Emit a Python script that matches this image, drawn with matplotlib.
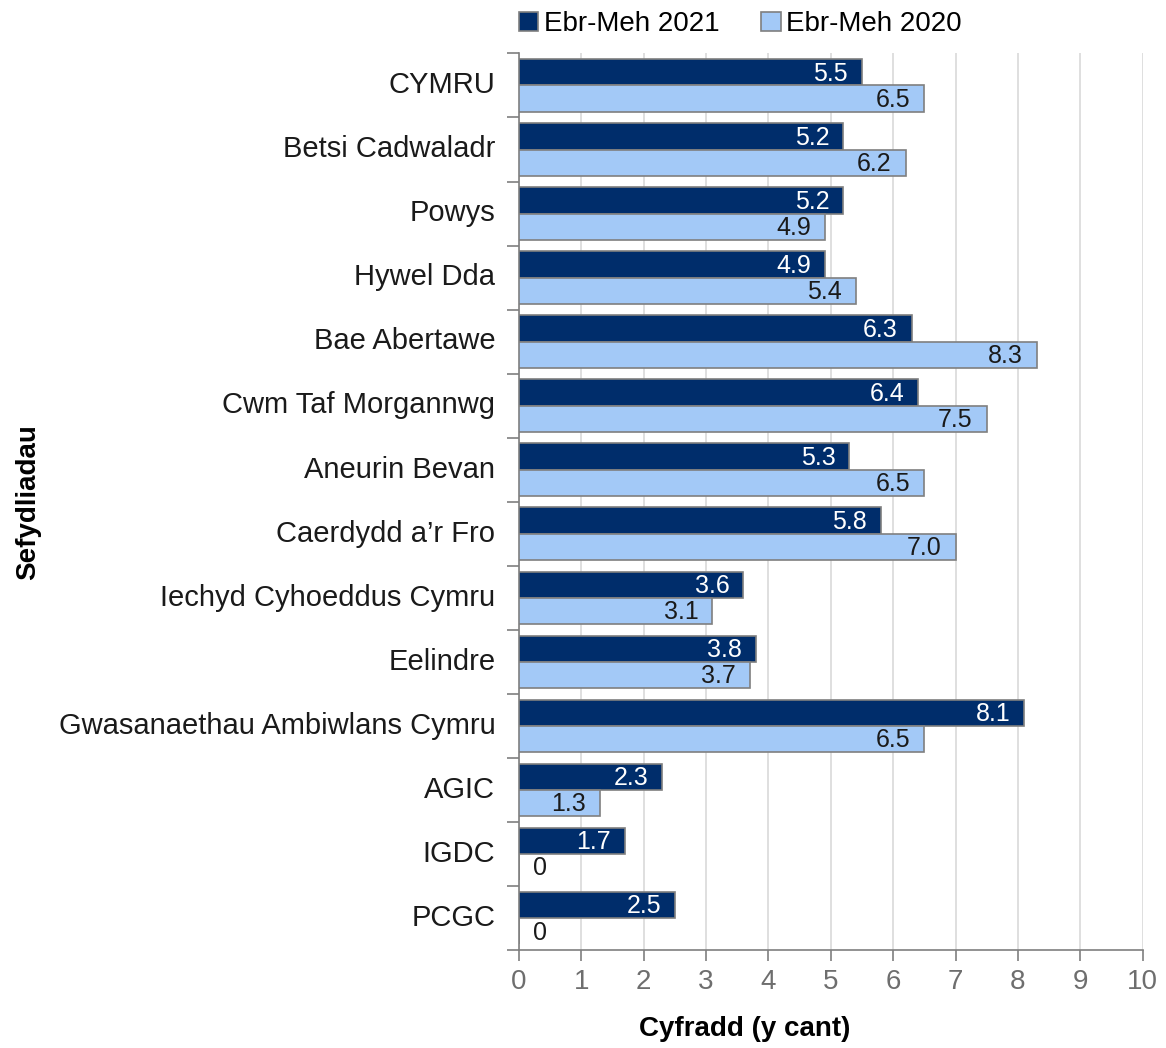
import matplotlib.pyplot as plt
import numpy as np

plt.rcParams["font.family"] = ["Liberation Sans", "DejaVu Sans"]

orgs = ["CYMRU", "Betsi Cadwaladr", "Powys", "Hywel Dda", "Bae Abertawe",
        "Cwm Taf Morgannwg", "Aneurin Bevan", "Caerdydd a\u2019r Fro",
        "Iechyd Cyhoeddus Cymru", "Eelindre", "Gwasanaethau Ambiwlans Cymru",
        "AGIC", "IGDC", "PCGC"]
rate_2021 = [5.5, 5.2, 5.2, 4.9, 6.3, 6.4, 5.3, 5.8, 3.6, 3.8, 8.1, 2.3, 1.7, 2.5]
rate_2020 = [6.5, 6.2, 4.9, 5.4, 8.3, 7.5, 6.5, 7.0, 3.1, 3.7, 6.5, 1.3, 0.0, 0.0]

dark = "#002d6b"
light = "#a3c9f7"
edge = "#7f7f7f"

fig = plt.figure(figsize=(11.66, 10.48), dpi=100)
ax = fig.add_axes([0.445, 0.0935, 0.535, 0.8555])

y = np.arange(len(orgs))
h = 0.41
b1 = ax.barh(y - h / 2, rate_2021, height=h, color=dark, edgecolor=edge,
             linewidth=1.2, label="Ebr-Meh 2021", zorder=3)
b2 = ax.barh(y + h / 2, rate_2020, height=h, color=light, edgecolor=edge,
             linewidth=1.2, label="Ebr-Meh 2020", zorder=3)

for bars, vals, col in [(b1, rate_2021, "white"), (b2, rate_2020, "#1a1a1a")]:
    for bar, v in zip(bars, vals):
        yc = bar.get_y() + bar.get_height() / 2
        if v == 0:
            ax.annotate("0", (0, yc), xytext=(10, -1), textcoords="offset points",
                        ha="left", va="center", fontsize=18, color=col, zorder=4)
        else:
            ax.annotate(f"{v:.1f}", (v, yc), xytext=(-10, -1), textcoords="offset points",
                        ha="right", va="center", fontsize=18, color=col, zorder=4)

ax.set_xlim(0, 10)
ax.set_ylim(len(orgs) - 0.5, -0.5)
ax.set_xticks(range(0, 11))
ax.tick_params(axis="x", labelsize=20, labelcolor="#6e6e6e", color=edge,
               length=8, width=1.2, pad=6)

# category boundaries as ticks, labels centred between them
ax.set_yticks(np.arange(-0.5, len(orgs), 1.0))
ax.set_yticklabels([])
ax.set_yticks(y - 0.05, minor=True)
ax.set_yticklabels(orgs, minor=True, fontsize=21, color="#1a1a1a")
ax.tick_params(axis="y", which="major", length=9, color=edge, width=1.2)
ax.tick_params(axis="y", which="minor", length=0, pad=17)

ax.grid(axis="x", color="#d9d9d9", linewidth=1.2, zorder=0)
for s in ["top", "right"]:
    ax.spines[s].set_visible(False)
for s in ["left", "bottom"]:
    ax.spines[s].set_color(edge)
    ax.spines[s].set_linewidth(1.2)

ax.set_xlabel("Cyfradd (y cant)", fontsize=20, fontweight="bold")
ax.xaxis.set_label_coords(0.362, -0.074)
ax.set_ylabel("Sefydliadau", fontsize=20, fontweight="bold")
ax.yaxis.set_label_coords(-0.766, 0.5)

fig.legend(handles=[b1, b2], loc="upper center", bbox_to_anchor=(0.635, 1.0),
           ncol=2, frameon=False, fontsize=20, handlelength=0.7, handleheight=0.7,
           handletextpad=0.2, columnspacing=1.5, borderaxespad=0.0)

plt.savefig("out.png", dpi=100)
